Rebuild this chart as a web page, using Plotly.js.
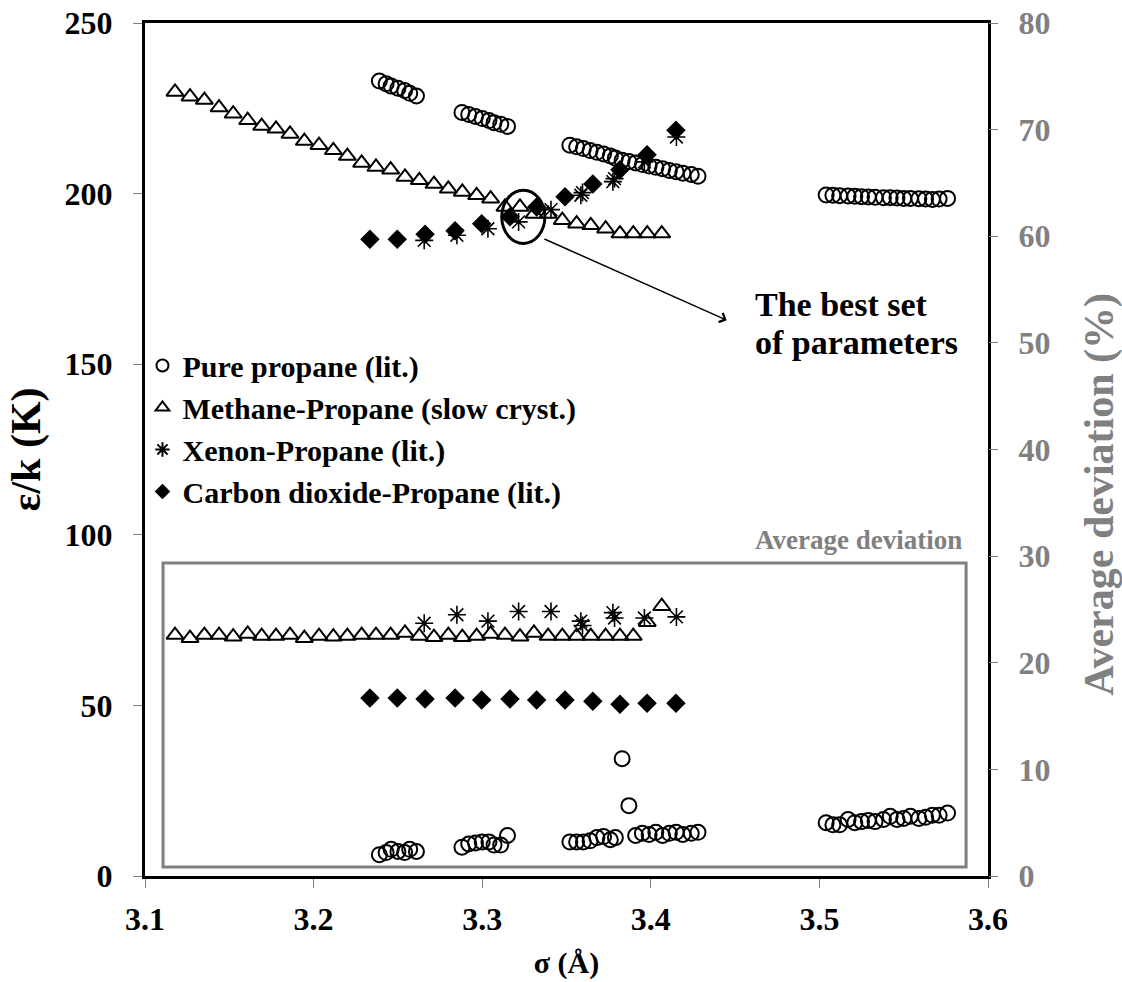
<!DOCTYPE html>
<html>
<head>
<meta charset="utf-8">
<script src="https://cdn.plot.ly/plotly-3.0.1.min.js"></script>
<style>html,body{margin:0;padding:0;background:#fff;}#chart{width:1122px;height:982px;}</style>
</head>
<body>
<div id="chart"></div>
<script>
// ---- data ----
// Pure propane (lit.)
const propSigma = [3.239,3.243,3.246,3.250,3.254,3.257,3.261,
  3.288,3.292,3.296,3.300,3.304,3.307,3.311,3.315,
  3.352,3.356,3.360,3.364,3.368,3.372,3.376,3.379,
  3.383,3.387,3.391,3.395,3.399,3.403,3.407,3.411,3.415,3.419,3.424,3.428,
  3.504,3.508,3.512,3.517,3.521,3.525,3.529,3.533,3.538,3.542,3.546,3.550,3.554,3.559,3.563,3.567,3.571,3.576];
const propEps = [233.0,232.2,231.5,230.9,230.2,229.4,228.6,
  223.8,223.2,222.6,222.0,221.4,220.8,220.3,219.7,
  214.2,213.7,213.2,212.6,212.1,211.6,211.0,210.4,
  209.8,209.4,209.0,208.5,208.1,207.7,207.3,206.8,206.4,206.0,205.6,205.1,
  199.6,199.5,199.4,199.3,199.2,199.1,199.0,198.9,198.8,198.8,198.7,198.6,198.6,198.5,198.4,198.3,198.4,198.6];
const propDev = [2.0,2.2,2.5,2.3,2.2,2.5,2.3,
  2.7,3.0,3.1,3.2,3.2,2.9,2.9,3.8,
  3.2,3.2,3.2,3.3,3.6,3.7,3.4,3.6,
  11.0,6.6,3.8,4.0,3.9,4.1,3.8,4.0,4.1,3.9,4.0,4.1,
  5.0,4.8,4.8,5.3,5.0,5.1,5.2,5.1,5.3,5.6,5.3,5.4,5.6,5.4,5.5,5.7,5.7,5.9];

// Methane-Propane (slow cryst.)
const methSigma = [3.1178,3.1267,3.1352,3.1439,3.1523,3.1609,3.1692,3.1777,3.1860,3.1945,
  3.2032,3.2117,3.2200,3.2285,3.2370,3.2457,3.2542,3.2627,3.2714,3.2799,
  3.2882,3.2967,3.3050,3.3135,3.3224,3.3307,3.3391,3.3475,3.3560,3.3644,
  3.3732,3.3817,3.3896,3.3979,3.4065];
const methEps = [229.8,228.4,227.4,225.2,223.4,221.5,219.8,219.0,217.5,215.4,
  214.2,212.7,211.0,209.0,207.8,207.0,204.9,203.9,202.8,201.4,
  200.5,199.5,198.5,196.1,196.1,194.0,194.0,192.2,191.2,190.7,
  189.7,188.3,188.3,188.3,188.3];
const methDev = [22.6,22.3,22.6,22.6,22.45,22.7,22.5,22.5,22.6,22.3,
  22.5,22.45,22.5,22.6,22.6,22.6,22.8,22.5,22.4,22.6,
  22.4,22.5,22.7,22.6,22.45,22.8,22.5,22.5,22.5,22.5,
  22.5,22.5,22.5,23.8,25.3];

// Xenon-Propane (lit.)
const xeSigma = [3.2656,3.2850,3.3034,3.3216,3.3408,3.3585,3.3595,3.3775,3.3785,3.3962,3.4152];
const xeEps = [186.3,187.8,189.7,191.7,195.3,199.5,200.3,203.5,204.4,209.3,216.6];
const xeDev = [23.7,24.5,23.9,24.8,24.8,23.9,23.5,24.7,24.2,24.2,24.3];

// Carbon dioxide-Propane (lit.)
const co2Sigma = [3.2334,3.2496,3.2661,3.2839,3.2997,3.3165,3.3323,3.3491,3.3656,3.3817,3.3978,3.4149];
const co2Eps = [186.6,186.6,188.1,189.1,191.2,193.2,196.1,199.1,202.8,207.0,211.4,218.6];
const co2Dev = [16.7,16.7,16.6,16.7,16.5,16.6,16.5,16.5,16.4,16.1,16.2,16.2];

const xTicks = [3.1,3.2,3.3,3.4,3.5,3.6];
const names = ['Pure propane (lit.)','Methane-Propane (slow cryst.)','Xenon-Propane (lit.)','Carbon dioxide-Propane (lit.)'];

// ---- styles ----
const FONT = '"Liberation Serif", "Times New Roman", serif';
const GREY = '#808080';
const mk = {
  prop: {symbol:'circle-open', size:15, color:'black', line:{width:2, color:'black'}},
  meth: {symbol:'triangle-up-open', size:15, color:'black', line:{width:2, color:'black'}},
  xe:   {symbol:'asterisk-open', size:15, color:'black', line:{width:1.6, color:'black'}},
  co2:  {symbol:'diamond', size:15, color:'black', line:{width:0}}
};

const traces = [
  {x:propSigma, y:propEps, name:names[0], mode:'markers', marker:mk.prop, yaxis:'y'},
  {x:methSigma, y:methEps, name:names[1], mode:'markers', marker:mk.meth, yaxis:'y'},
  {x:xeSigma, y:xeEps, name:names[2], mode:'markers', marker:mk.xe, yaxis:'y'},
  {x:co2Sigma, y:co2Eps, name:names[3], mode:'markers', marker:mk.co2, yaxis:'y'},
  {x:propSigma, y:propDev, name:names[0], mode:'markers', marker:mk.prop, yaxis:'y2', showlegend:false},
  {x:methSigma, y:methDev, name:names[1], mode:'markers', marker:mk.meth, yaxis:'y2', showlegend:false},
  {x:xeSigma, y:xeDev, name:names[2], mode:'markers', marker:mk.xe, yaxis:'y2', showlegend:false},
  {x:co2Sigma, y:co2Dev, name:names[3], mode:'markers', marker:mk.co2, yaxis:'y2', showlegend:false}
];

const layout = {
  width:1122, height:982,
  margin:{l:145, r:134, t:23, b:106},
  paper_bgcolor:'white', plot_bgcolor:'white',
  font:{family:FONT, size:30, color:'black', weight:'bold'},
  showlegend:true,
  legend:{x:-0.003, y:0.629, xanchor:'left', yanchor:'top', bgcolor:'rgba(0,0,0,0)',
    font:{family:FONT, size:30, weight:'bold', color:'black'}, tracegroupgap:0, itemwidth:30,
    itemsizing:'constant'},
  xaxis:{range:[3.1,3.6], tickvals:xTicks, ticktext:xTicks.map(v=>v.toFixed(1)),
    showgrid:false, zeroline:false, showline:true, mirror:true, linecolor:'black', linewidth:3,
    ticks:'outside', ticklen:9, tickwidth:1, tickcolor:GREY,
    tickfont:{family:FONT, size:32, weight:'bold', color:'black'}, ticklabelstandoff:4,
    title:{text:'σ (Å)', font:{family:FONT, size:30, weight:'bold', color:'black'}, standoff:16}},
  yaxis:{range:[0,250], tickvals:[0,50,100,150,200,250],
    showgrid:false, zeroline:false, showline:true, mirror:true, linecolor:'black', linewidth:3,
    ticks:'outside', ticklen:9, tickwidth:1, tickcolor:GREY,
    tickfont:{family:FONT, size:32, weight:'bold', color:'black'}, ticklabelstandoff:14,
    title:{text:'ε/k (K)', font:{family:FONT, size:42, weight:'bold', color:'black'}, standoff:11}},
  yaxis2:{range:[0,80], tickvals:[0,10,20,30,40,50,60,70,80], overlaying:'y', side:'right',
    showgrid:false, zeroline:false, showline:false,
    ticks:'outside', ticklen:9, tickwidth:1, tickcolor:GREY,
    tickfont:{family:FONT, size:32, weight:'bold', color:GREY}, ticklabelstandoff:14},
  shapes:[
    {type:'rect', xref:'x', yref:'y2', x0:3.1107, x1:3.587, y0:0.84, y1:29.36,
      line:{color:GREY, width:3}, fillcolor:'rgba(0,0,0,0)', layer:'below'},
    {type:'circle', xref:'x', yref:'y', x0:3.3116, x1:3.3372, y0:185.4, y1:201.0,
      line:{color:'black', width:3}, fillcolor:'rgba(0,0,0,0)'}
  ],
  annotations:[
    {xref:'paper', yref:'paper', x:1.1329, y:0.447, xanchor:'center', yanchor:'middle', textangle:-90,
      showarrow:false, text:'Average deviation (%)', font:{family:FONT, size:42, weight:'bold', color:GREY}},
    {xref:'x', yref:'y', x:3.445, y:162.9, axref:'x', ayref:'y', ax:3.336, ay:186.9,
      showarrow:true, arrowhead:4, arrowsize:1.3, arrowwidth:1.5, arrowcolor:'black', text:''},
    {xref:'x', yref:'y', x:3.4605, y:167.6, xanchor:'left', yanchor:'middle', align:'left', showarrow:false,
      text:'The best set', font:{family:FONT, size:34, weight:'bold', color:'black'}},
    {xref:'x', yref:'y', x:3.4605, y:156.5, xanchor:'left', yanchor:'middle', align:'left', showarrow:false,
      text:'of parameters', font:{family:FONT, size:34, weight:'bold', color:'black'}},
    {xref:'x', yref:'y2', x:3.523, y:31.5, xanchor:'center', yanchor:'middle', showarrow:false,
      text:'Average deviation', font:{family:FONT, size:27, weight:'bold', color:GREY}}
  ]
};

Plotly.newPlot('chart', traces, layout, {displayModeBar:false, staticPlot:true});
</script>
</body>
</html>
